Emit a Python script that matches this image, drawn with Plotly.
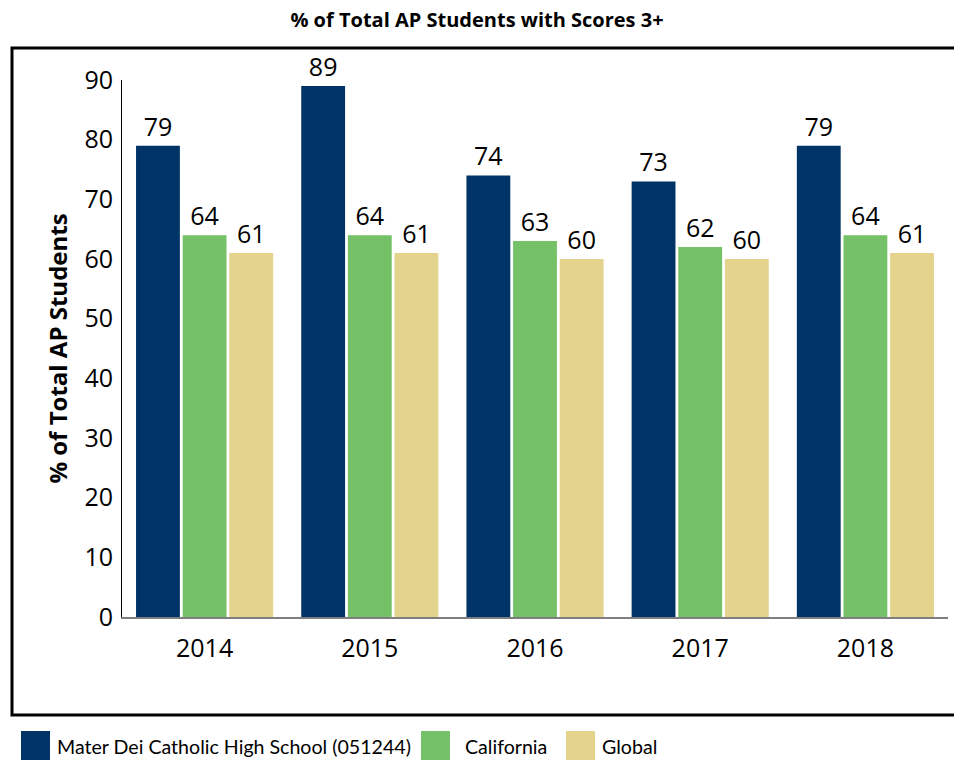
import plotly.graph_objects as go

years = ["2014", "2015", "2016", "2017", "2018"]
school = [79, 89, 74, 73, 79]
california = [64, 64, 63, 62, 64]
global_vals = [61, 61, 60, 60, 61]

series_names = ["Mater Dei Catholic High School (051244)", "California", "Global"]
colors = ["#003366", "#74C167", "#E3D38D"]

FONT = "Open Sans, sans-serif"
LFONT = "Lato, Open Sans, sans-serif"

# plot-area pixel geometry (for paper-coordinate decorations)
L, R, T, B = 122, 948, 80, 617
W, H = R - L, B - T


def px(x):
    return (x - L) / W


def py(y):
    return (B - y) / H


fig = go.Figure()
for name, vals, col in zip(series_names, [school, california, global_vals], colors):
    fig.add_trace(go.Bar(
        x=years, y=vals, name=name, marker=dict(color=col, line=dict(width=0)),
        text=[str(v) for v in vals], textposition="outside",
        textfont=dict(size=25, color="black", family=FONT),
        cliponaxis=False, showlegend=False,
    ))

fig.update_layout(
    width=954, height=760,
    margin=dict(l=L, r=954 - R, t=T, b=760 - B),
    paper_bgcolor="white", plot_bgcolor="white",
    barmode="group", bargap=0.153, bargroupgap=0.06,
    font=dict(family=FONT, color="black"),
    title=dict(text="<b>% of Total AP Students with Scores 3+</b>", x=0.5, xanchor="center",
               y=0.974, yanchor="middle", font=dict(size=20, family=FONT)),
    showlegend=False,
    uniformtext=dict(mode=False),
)
fig.update_xaxes(showgrid=False, showline=True, linecolor="#7f7f7f", linewidth=2,
                 tickfont=dict(size=25, family=FONT), ticks="", automargin=False,
                 ticklabelstandoff=8)
fig.update_yaxes(range=[0, 90], dtick=10, showgrid=False, zeroline=False,
                 showline=True, linecolor="black", linewidth=1, ticks="", automargin=False,
                 tickfont=dict(size=25, family=FONT), ticklabelstandoff=3,
                 title=dict(text="<b>% of Total AP Students</b>", font=dict(size=24, family=FONT), standoff=10))

# outer frame
fig.add_shape(type="rect", xref="paper", yref="paper",
              x0=px(12), x1=px(957), y0=py(715), y1=py(48),
              line=dict(color="black", width=3), fillcolor="rgba(0,0,0,0)", layer="below")

# manual legend (large swatches like the reference)
legend_swatch_x = [21, 421, 566]
legend_text_x = [55, 463, 600]
for name, col, sx, tx in zip(series_names, colors, legend_swatch_x, legend_text_x):
    fig.add_shape(type="rect", xref="paper", yref="paper",
                  x0=px(sx), x1=px(sx + 29), y0=py(760), y1=py(731),
                  line=dict(width=0), fillcolor=col)
    fig.add_annotation(xref="paper", yref="paper", x=px(tx), y=py(746),
                       xanchor="left", yanchor="middle", showarrow=False,
                       text=name, font=dict(size=19.6, family=LFONT, color="black"))

fig.write_html("out.html", config={"displayModeBar": False},
               post_script="document.body.style.margin='0px';")
